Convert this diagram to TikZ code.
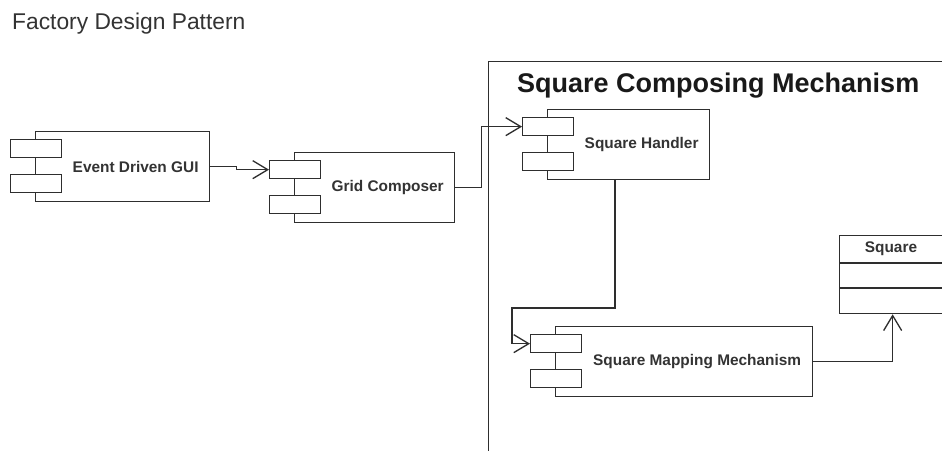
\documentclass[tikz,border=0pt]{standalone}
\usepackage{fontspec}
\setmainfont{Liberation Sans}
\usetikzlibrary{arrows.meta,calc}
\definecolor{ln}{HTML}{2E2E2E}
\definecolor{tx}{HTML}{333333}
\tikzset{
  mainbox/.style={draw=ln, line width=1.3pt, fill=white, rectangle, inner sep=0pt, minimum height=70pt},
  smallbox/.style={draw=ln, line width=1.3pt, fill=white, rectangle, inner sep=0pt, minimum width=51pt, minimum height=18pt},
  lbl/.style={font=\bfseries\fontsize{15.4}{17}\selectfont, text=tx, inner sep=0pt},
  conn/.style={draw=ln, line width=1.3pt},
  arr/.style={conn, -{Straight Barb[length=15pt,width=18pt,line width=1.3pt]}},
}
\newcommand\mycomp[5]{%
  \node[mainbox, minimum width=#4pt, anchor=north west] (#1) at (#2,#3) {};
  \node[smallbox, anchor=north west] (#1-s1) at ($(#1.north west)+(-25,8)$) {};
  \node[smallbox, anchor=north west] (#1-s2) at ($(#1.north west)+(-25,43)$) {};
  \node[lbl] (#1-t) at ($(#1.center)+(13,0)$) {#5};
}
\begin{document}
\begin{tikzpicture}[x=1pt,y=-1pt]
\useasboundingbox (0,0) rectangle (942,450);
\fill[white] (0,0) rectangle (942,450);

\node[anchor=base west, inner sep=0pt, text=tx, font=\fontsize{22.8}{25}\selectfont] (title) at (12,29.5) {Factory Design Pattern};

% frame
\node[draw=ln, line width=1.3pt, rectangle, inner sep=0pt, anchor=north west, minimum width=480pt, minimum height=420pt] (frame) at (488,61) {};
\node[anchor=base west, inner sep=0pt, text=black!90, font=\bfseries\fontsize{27}{30}\selectfont] (ftitle) at (517,92) {Square Composing Mechanism};

\mycomp{gui}{35}{131}{174}{Event Driven GUI}
\mycomp{grid}{294}{152}{160}{Grid Composer}
\mycomp{h}{547}{109}{162}{Square Handler}
\mycomp{m}{555}{326}{257}{Square Mapping Mechanism}

% class Square
\node[draw=ln, line width=1.3pt, rectangle, inner sep=0pt, anchor=north west, minimum width=106pt, minimum height=78pt] (sq) at (839,235) {};
\node[lbl] (sq-t) at (891,249) {Square};
\draw[conn] (sq.west |- 0,263) coordinate (sqa) -- (sq.east |- sqa);
\draw[conn] (sq.west |- 0,288) coordinate (sqb) -- (sq.east |- sqb);

% connectors
\draw[arr] (gui.east) -- ++(26,0) |- (grid-s1.west);
\draw[arr] (grid.east) -- ++(26,0) |- (h-s1.west);
\coordinate (hb) at (615,308);
\coordinate (mb) at (512,308);
\draw[arr] (h.south -| hb) -- (hb) -- (mb) |- (m-s1.west);
\draw[arr] (m.east) -| (sq.south);
\end{tikzpicture}
\end{document}
